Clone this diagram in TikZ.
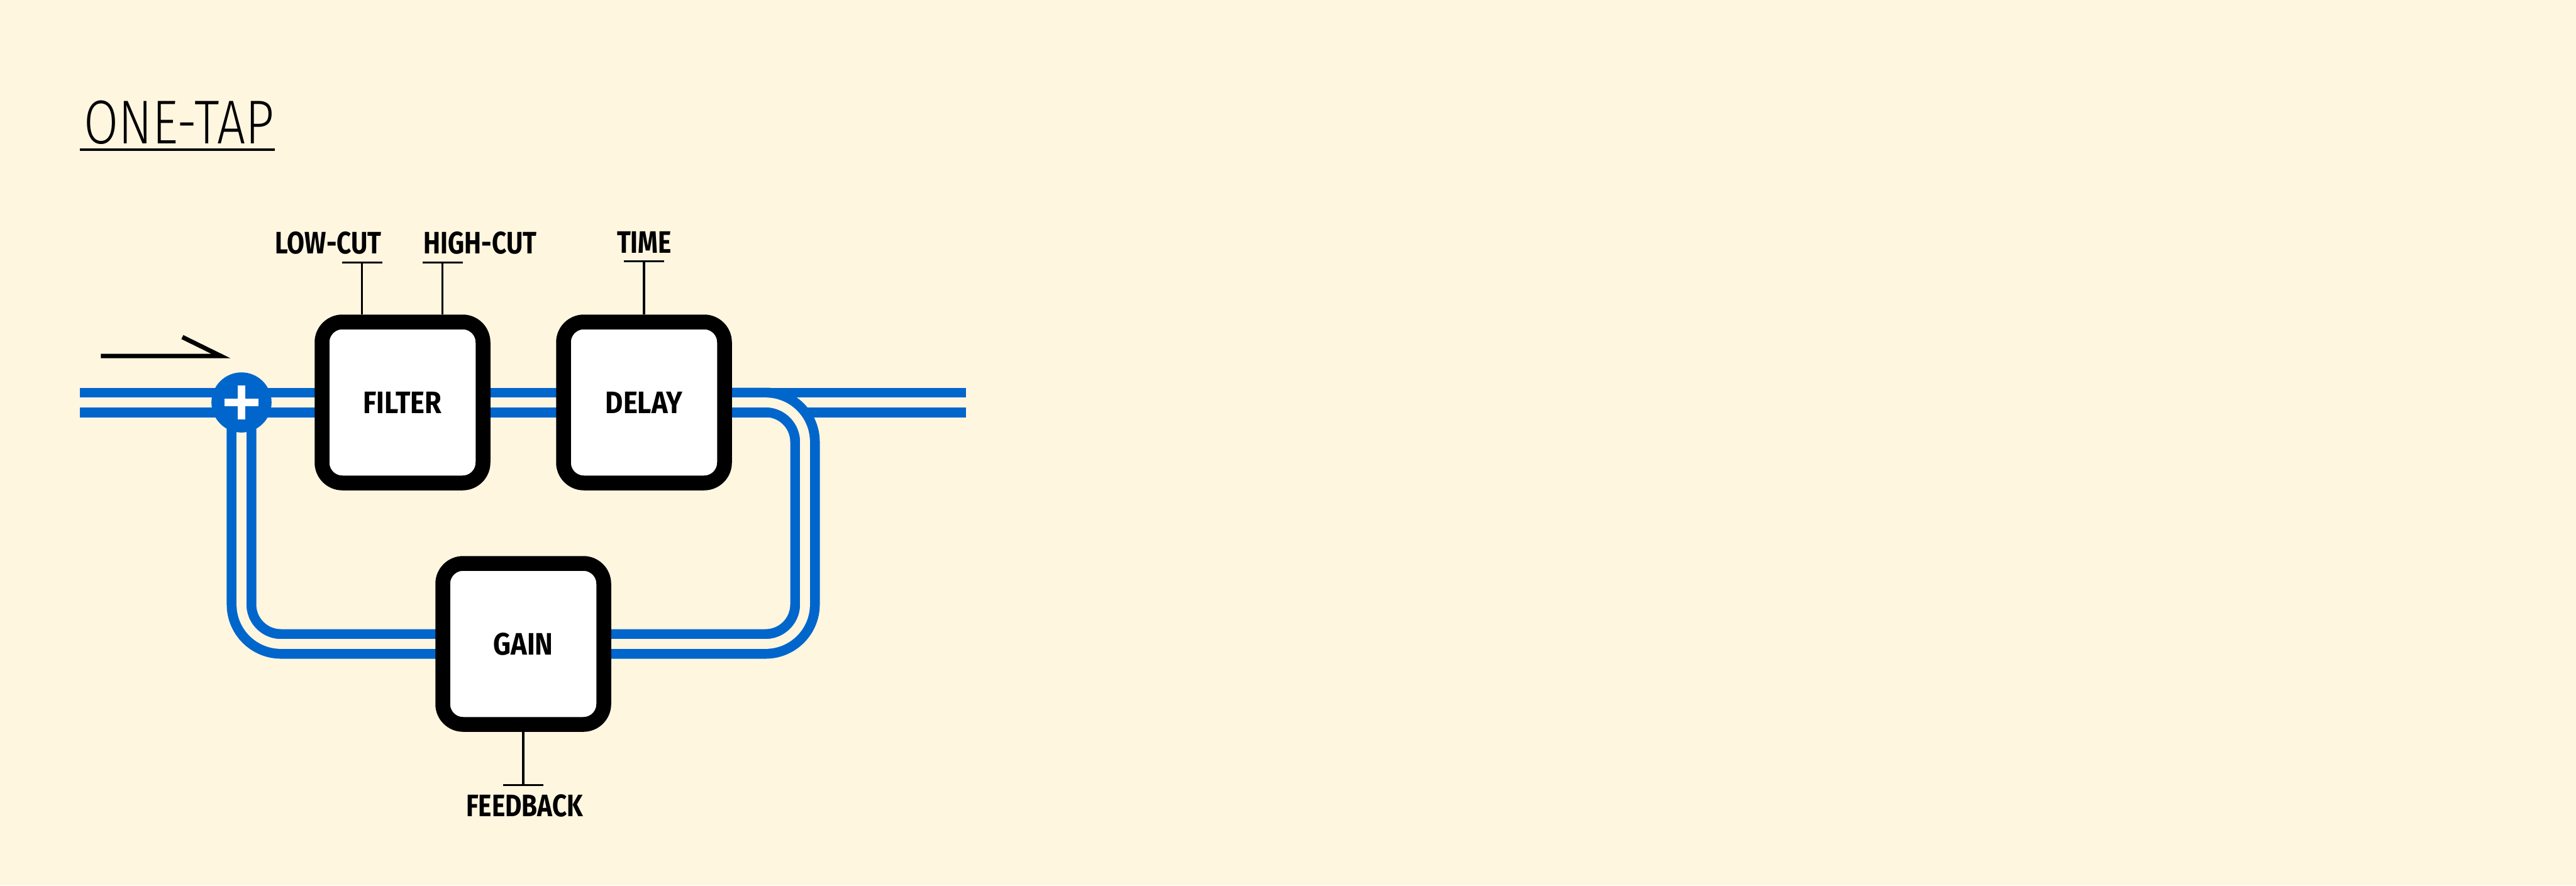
\documentclass[tikz,border=0pt]{standalone}
\usepackage{fontspec}
\setmainfont{Fira Sans}
\newfontfamily\labfont{Fira Sans}[FakeStretch=0.88]
\newfontfamily\tapfont{Fira Sans}[FakeStretch=0.82]
\newfontfamily\titlefont{Fira Sans Light}[FakeStretch=0.81]
\usetikzlibrary{backgrounds}
\definecolor{bg}{HTML}{FFF6E0}
\definecolor{pipeblue}{HTML}{0066CC}
\tikzset{
  box/.style={draw=black, line width=9pt, fill=white, rounded corners=12.4pt,
    minimum width=98pt, minimum height=98pt, inner sep=0pt,
    font=\labfont\bfseries\fontsize{18.9}{20}\selectfont},
  lab/.style={inner sep=0pt, font=\tapfont\bfseries\fontsize{18.9}{20}\selectfont},
  pipe/.style={draw=pipeblue, line width=6pt, double=bg, double distance=6pt},
  tline/.style={draw=black, line width=1.2pt},
  sumnode/.style={circle, fill=pipeblue, minimum size=36.6pt, inner sep=0pt}
}
\begin{document}
\begin{tikzpicture}[x=1pt,y=-1pt]
\begin{scope}[on background layer]
\fill[bg] (0,0) rectangle (1568,539);
\end{scope}
\useasboundingbox (0,0) rectangle (1568,539);

% title
\node[anchor=base west, inner sep=0pt, font=\titlefont\fontsize{37.7}{40}\selectfont] (title) at (51,87.3) {ONE-TAP};
\coordinate (ulA) at (48.8,91);
\coordinate (ulB) at (167.4,91);
\draw[line width=1.7pt] (ulA) -- (ulB);

% input arrow
\coordinate (arA) at (61.4,216.75);
\coordinate (arB) at (134.5,216.75);
\coordinate (arC) at (111,205.2);
\draw[line width=2.7pt, line join=miter] (arA) -- (arB) -- (arC);

% blocks
\node[box] (filter) at (245,245) {FILTER};
\node[box] (delay) at (392,245) {DELAY};
\node[box] (gain) at (318.5,392) {GAIN};
\node[sumnode] (sum) at (147,245) {};
\draw[white, line width=4.7pt] ([yshift=10.5pt]sum.center) -- ([yshift=-10.5pt]sum.center);
\draw[white, line width=4.7pt] ([xshift=-10.35pt]sum.center) -- ([xshift=10.35pt]sum.center);

% pipes
\coordinate (in) at (48.8,245);
\coordinate (out) at (588,245);
\coordinate (fb1) at (490,245);
\coordinate (fb2) at (490,392);
\coordinate (fb3) at (147,392);
\begin{scope}[on background layer]
\draw[pipe] (in) -- (out);
\draw[pipe, rounded corners=24pt] (delay.center) -- (fb1) -- (fb2) -- (fb3) -- (sum.center);
\end{scope}

% control taps
\coordinate (lowbar) at (220.4,159.8);
\coordinate (highbar) at (269.4,159.8);
\coordinate (timebar) at (392,159.2);
\coordinate (fbbar) at (318.5,477.8);
\draw[tline] (lowbar) -- (lowbar |- filter.north);
\draw[tline] (highbar) -- (highbar |- filter.north);
\draw[tline] (timebar) -- (delay.north);
\draw[tline] (fbbar) -- (gain.south);
\foreach \b in {lowbar,highbar,timebar,fbbar}
  \draw[tline] ([xshift=-12.2pt]\b) -- ([xshift=12.2pt]\b);

\node[lab, anchor=base east] (lowlab) at (232.5,154.5) {LOW-CUT};
\node[lab, anchor=base west] (highlab) at (257.8,154.5) {HIGH-CUT};
\node[lab, anchor=base] (timelab) at (392.2,154.1) {TIME};
\node[lab, anchor=base] (fblab) at (319.3,497) {FEEDBACK};
\end{tikzpicture}
\end{document}
